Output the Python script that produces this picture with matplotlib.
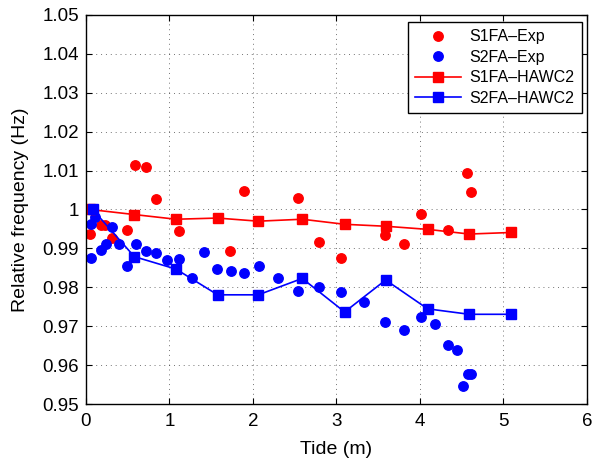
import matplotlib
matplotlib.use("Agg")
import matplotlib.pyplot as plt

plt.rcParams['font.family'] = ['Liberation Sans', 'DejaVu Sans']

# experimental points, first fore-aft mode
s1_exp_tide = [0.048, 0.176, 0.228, 0.315, 0.495, 0.587, 0.714, 0.842, 1.118, 1.729,
               1.892, 2.535, 2.790, 3.050, 3.577, 3.812, 4.008, 4.331, 4.567, 4.607]
s1_exp_freq = [0.9936, 0.9959, 0.9959, 0.9926, 0.9947, 1.0115, 1.0109, 1.0027, 0.9944, 0.9893,
               1.0047, 1.0030, 0.9917, 0.9876, 0.9935, 0.9911, 0.9988, 0.9947, 1.0093, 1.0044]

# experimental points, second fore-aft mode
s2_exp_tide = [0.056, 0.062, 0.104, 0.176, 0.236, 0.315, 0.395, 0.495, 0.595, 0.719,
               0.842, 0.966, 1.118, 1.273, 1.413, 1.565, 1.733, 1.896, 2.072, 2.303,
               2.539, 2.790, 3.054, 3.329, 3.577, 3.812, 4.008, 4.176, 4.331, 4.443,
               4.511, 4.571, 4.611]
s2_exp_freq = [0.9962, 0.9875, 0.9980, 0.9896, 0.9911, 0.9956, 0.9911, 0.9855, 0.9911, 0.9893,
               0.9888, 0.9870, 0.9873, 0.9825, 0.9890, 0.9847, 0.9843, 0.9837, 0.9855, 0.9825,
               0.9790, 0.9800, 0.9787, 0.9763, 0.9710, 0.9690, 0.9725, 0.9707, 0.9653, 0.9639,
               0.9548, 0.9578, 0.9578]

# HAWC2 simulations
hawc_tide_s1 = [0.05, 0.579, 1.078, 1.577, 2.064, 2.590, 3.098, 3.589, 4.092, 4.591, 5.093]
hawc_s1 = [1.0000, 0.9987, 0.9975, 0.9978, 0.9970, 0.9975, 0.9962, 0.9957, 0.9949, 0.9937, 0.9941]
hawc_tide_s2 = [0.08, 0.579, 1.078, 1.577, 2.064, 2.590, 3.098, 3.589, 4.092, 4.591, 5.093]
hawc_s2 = [1.0000, 0.9879, 0.9847, 0.9781, 0.9781, 0.9823, 0.9737, 0.9819, 0.9745, 0.9731, 0.9731]

fig = plt.figure(figsize=(5.95, 4.62), dpi=100)
ax = fig.add_axes([0.1445, 0.1249, 0.842, 0.8433])

ax.plot(s1_exp_tide, s1_exp_freq, 'o', color='red', markersize=6.8, label='S1FA\u2013Exp')
ax.plot(s2_exp_tide, s2_exp_freq, 'o', color='blue', markersize=6.8, label='S2FA\u2013Exp')
ax.plot(hawc_tide_s1, hawc_s1, '-s', color='red', markersize=6.5, linewidth=1.2, label='S1FA\u2013HAWC2')
ax.plot(hawc_tide_s2, hawc_s2, '-s', color='blue', markersize=6.5, linewidth=1.2, label='S2FA\u2013HAWC2')

ax.set_xlim(0, 6)
ax.set_ylim(0.95, 1.05)
ax.set_xticks(range(0, 7))
yt = [0.95 + 0.01 * i for i in range(11)]
ax.set_yticks(yt)
ax.set_yticklabels(['0.95', '0.96', '0.97', '0.98', '0.99', '1', '1.01', '1.02', '1.03', '1.04', '1.05'])
ax.tick_params(direction='in', top=True, right=True, labelsize=13.5, length=4, width=0.8)
ax.tick_params(axis='x', pad=6)
ax.tick_params(axis='y', pad=5)
ax.grid(True, linestyle=(0, (1, 4)), color='black', linewidth=0.7, alpha=0.55)
for s in ax.spines.values():
    s.set_linewidth(1.0)

ax.set_xlabel('Tide (m)', fontsize=14, labelpad=8)
ax.set_ylabel('Relative frequency (Hz)', fontsize=14, labelpad=10)

leg = ax.legend(loc='upper right', bbox_to_anchor=(0.9894, 0.9813), fontsize=11.5, numpoints=1,
                fancybox=False, framealpha=1, edgecolor='black', borderaxespad=0,
                handlelength=2.9, labelspacing=0.35, borderpad=0.45, handletextpad=0.5)
leg.get_frame().set_linewidth(1.0)

fig.savefig('out.png', dpi=100)
